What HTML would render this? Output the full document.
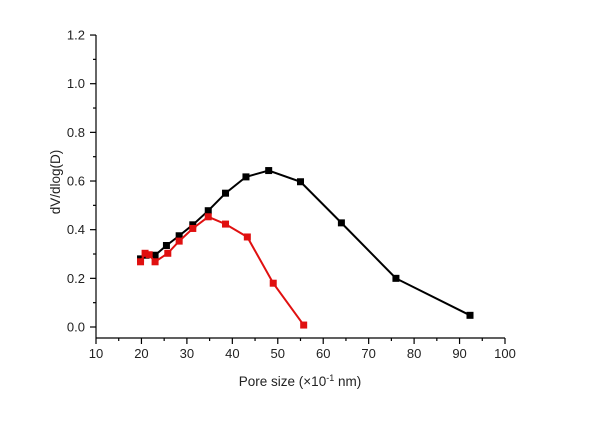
<!DOCTYPE html>
<html><head><meta charset="utf-8"><style>
body{margin:0;background:#fff;}
svg text{font-family:"Liberation Sans",Arial,sans-serif;font-size:13px;fill:#222;}
</style></head><body>
<svg id="s" width="600" height="424" xmlns="http://www.w3.org/2000/svg">
<rect width="600" height="424" fill="#fff"/>
<g id="ax" stroke="#000" stroke-width="1.2" fill="none"></g>
<g id="lab"></g>
<g id="dat"></g>
<text x="300" y="386" text-anchor="middle" style="font-size:13.5px">Pore size (×10<tspan dy="-5" style="font-size:9px">-1</tspan><tspan dy="5"> nm)</tspan></text>
<text transform="translate(60,182) rotate(-90)" text-anchor="middle" style="font-size:13.5px">dV/dlog(D)</text>
</svg>
<script>
const X=x=>96+(x-10)*4.5444, Y=y=>327-y*243.3;
const ns="http://www.w3.org/2000/svg";
function el(p,t,a,txt){const e=document.createElementNS(ns,t);for(const k in a)e.setAttribute(k,a[k]);if(txt!=null)e.textContent=txt;document.getElementById(p).appendChild(e);return e;}
el("ax","line",{x1:96,y1:35,x2:96,y2:338});
el("ax","line",{x1:96,y1:338,x2:505,y2:338});
for(let i=0;i<=12;i++){const y=Y(i*0.1);el("ax","line",{x1:i%2?93:90,y1:y,x2:96,y2:y});
 if(i%2==0)el("lab","text",{x:85,y:y+4.5,"text-anchor":"end"},(i*0.1).toFixed(1));}
for(let v=10;v<=100;v+=5){const x=X(v);el("ax","line",{x1:x,y1:338,x2:x,y2:v%10?341:344});
 if(v%10==0)el("lab","text",{x:x,y:358,"text-anchor":"middle"},v);}
const B=[[19.8,0.28],[21,0.295],[23,0.295],[25.5,0.335],[28.3,0.375],[31.3,0.42],[34.7,0.478],[38.5,0.55],[43,0.617],[48,0.643],[55,0.597],[64,0.428],[76,0.2],[92.3,0.048]];
const R=[[19.8,0.268],[20.8,0.303],[21.7,0.297],[23,0.268],[25.8,0.303],[28.3,0.353],[31.3,0.405],[34.7,0.453],[38.5,0.423],[43.3,0.37],[49,0.18],[55.7,0.008]];
function series(d,c){el("dat","polyline",{points:d.map(p=>X(p[0])+","+Y(p[1])).join(" "),fill:"none",stroke:c,"stroke-width":2});
 d.forEach(p=>el("dat","rect",{x:X(p[0])-3.5,y:Y(p[1])-3.5,width:7,height:7,fill:c}));}
series(B,"#000");series(R,"#e01010");
</script>
</body></html>
